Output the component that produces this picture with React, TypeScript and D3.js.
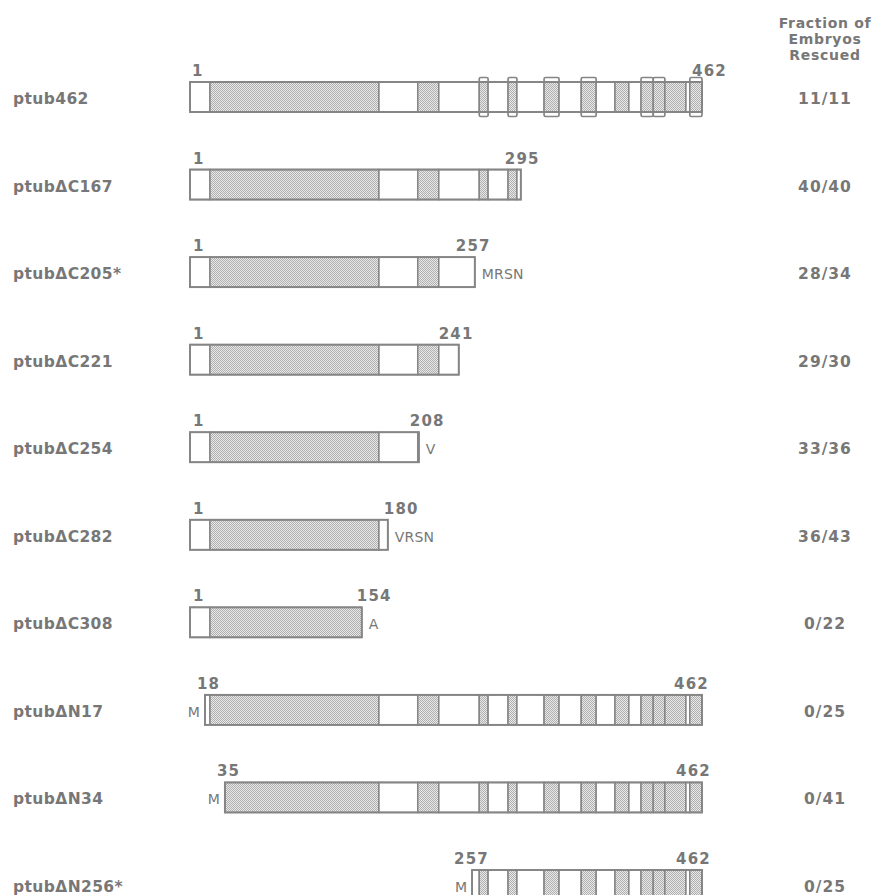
import React from 'react';
import * as d3 from 'd3';

// ---------- DATA ----------
const constructs = [
  'ptub462', 'ptub\u0394C167', 'ptub\u0394C205*', 'ptub\u0394C221', 'ptub\u0394C254',
  'ptub\u0394C282', 'ptub\u0394C308', 'ptub\u0394N17', 'ptub\u0394N34', 'ptub\u0394N256*',
];
// drawn extent of each construct, in residue units
const drawStart = [0, 0, 0, 0, 0, 0, 0, 13.5, 31.5, 254.5];
const drawEnd = [462, 298.5, 257, 242.5, 206.5, 178.5, 155, 462, 462, 462];
const startLabels = ['1', '1', '1', '1', '1', '1', '1', '18', '35', '257'];
const endLabels = ['462', '295', '257', '241', '208', '180', '154', '462', '462', '462'];
const prefixes = ['', '', '', '', '', '', '', 'M', 'M', 'M'];
const suffixes = ['', '', 'MRSN', '', 'V', 'VRSN', 'A', '', '', ''];
const rescued = ['11/11', '40/40', '28/34', '29/30', '33/36', '36/43', '0/22', '0/25', '0/41', '0/25'];
const headerLines = ['Fraction of', 'Embryos', 'Rescued'];

// domain map of the full-length protein (segment boundaries, residue units)
const segBounds = [0, 18, 170.5, 205.5, 224.5, 261, 269, 287, 295, 319.5, 333, 353, 366.5, 383.5, 396, 407, 418, 428.5, 447.5, 451, 462];
const segShaded = [false, true, false, true, false, true, false, true, false, true, false, true, false, true, false, true, true, true, false, true];
// boxes drawn as raised tabs on the full-length construct
const segRaised = [false, false, false, false, false, true, false, true, false, true, false, true, false, false, false, true, true, false, false, true];

// ---------- LAYOUT ----------
const W = 876;
const H = 895;
const BAR_H = 30;
const startNudge = [2, 3, 3, 3, 3, 3, 3, -8, -8, -18];
const endNudge = [-10, -16, -19, -20, -9, -4, -5, -28, -26, -26];
const TEXT = '#777777';
const LINE = '#858585';
const FONT = "'DejaVu Sans', 'Liberation Sans', sans-serif";

export default function App() {
  const x = d3.scaleLinear().domain([0, 462]).range([190, 702]);
  const y = d3.scalePoint<string>().domain(constructs).range([82, 870]);

  const segs = segShaded.map((s, i) => ({ a: segBounds[i], b: segBounds[i + 1], shaded: s, raised: segRaised[i] }));

  return (
    <svg width={W} height={H} style={{ position: 'absolute', left: 0, top: 0, background: '#fff' }}>
      <defs>
        <pattern id="stip" width={2} height={2} patternUnits="userSpaceOnUse">
          <rect width={2} height={2} fill="#e8e8e8" />
          <rect width={1} height={1} fill="#b0b0b0" />
          <rect x={1} y={1} width={1} height={1} fill="#b0b0b0" />
        </pattern>
      </defs>
      <rect width={W} height={H} fill="#fff" />

      {headerLines.map((t, i) => (
        <text key={t} x={825} y={28 + i * 16} textAnchor="middle" fontFamily={FONT} fontWeight="bold"
          fontSize={14} letterSpacing={0.7} fill={TEXT}>{t}</text>
      ))}

      {constructs.map((name, i) => {
        const top = y(name) as number;
        const s0 = drawStart[i];
        const s1 = drawEnd[i];
        const visible = segs.filter(sg => sg.b > s0 && sg.a < s1).map(sg => ({
          ...sg, a: Math.max(sg.a, s0), b: Math.min(sg.b, s1),
        }));
        return (
          <g key={name}>
            <text x={13} y={top + 22} fontFamily={FONT} fontWeight="bold" fontSize={15.5}
              letterSpacing={0.4} fill={TEXT}>{name}</text>

            {i === 0 && visible.filter(sg => sg.raised).map((sg, k) => (
              <rect key={'r' + k} x={x(sg.a)} y={top - 4.5} width={x(sg.b) - x(sg.a)} height={BAR_H + 9}
                rx={1.5} fill="#fff" stroke={LINE} strokeWidth={1.7} />
            ))}

            {visible.map((sg, k) => (
              <rect key={'s' + k} x={x(sg.a)} y={top} width={x(sg.b) - x(sg.a)} height={BAR_H}
                fill={sg.shaded ? 'url(#stip)' : '#fff'} stroke={LINE} strokeWidth={1.5} />
            ))}
            <rect x={x(s0)} y={top} width={x(s1) - x(s0)} height={BAR_H} fill="none" stroke={LINE} strokeWidth={1.9} />

            <text x={x(s0) + startNudge[i]} y={top - 6} fontFamily={FONT} fontWeight="bold" fontSize={15}
              letterSpacing={1.2} fill={TEXT}>{startLabels[i]}</text>
            <text x={x(s1) + endNudge[i]} y={top - 6} fontFamily={FONT} fontWeight="bold" fontSize={15}
              letterSpacing={1.2} fill={TEXT}>{endLabels[i]}</text>

            {prefixes[i] && (
              <text x={x(s0) - 5} y={top + 22} textAnchor="end" fontFamily={FONT} fontSize={14}
                fill={TEXT}>{prefixes[i]}</text>
            )}
            {suffixes[i] && (
              <text x={x(s1) + 7} y={top + 22} fontFamily={FONT} fontSize={14} letterSpacing={0.2}
                fill={TEXT}>{suffixes[i]}</text>
            )}

            <text x={825} y={top + 22} textAnchor="middle" fontFamily={FONT} fontWeight="bold" fontSize={15.5}
              letterSpacing={1} fill={TEXT}>{rescued[i]}</text>
          </g>
        );
      })}
    </svg>
  );
}
